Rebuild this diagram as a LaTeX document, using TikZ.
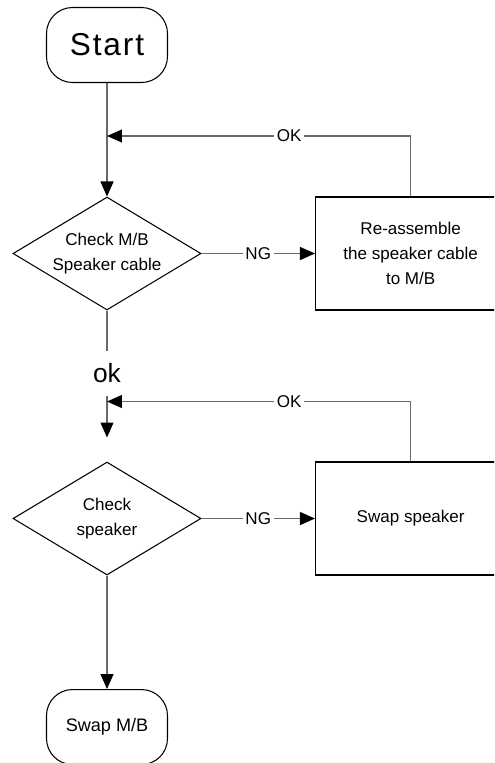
\documentclass[tikz,border=0pt]{standalone}
\usepackage{fontspec}
\setmainfont{Liberation Sans}
\newfontfamily\startfont[LetterSpace=6]{Liberation Sans}
\usetikzlibrary{shapes.geometric, arrows.meta, positioning}
\definecolor{lineg}{RGB}{105, 105, 105}

\begin{document}
\begin{tikzpicture}[
    x=0.02cm, y=-0.02cm,
    node distance=2.27cm,
    font=\fontsize{9.7}{14.2}\selectfont,
    term/.style={rectangle, draw, line width=0.6pt, rounded corners=0.52cm, minimum width=2.42cm, minimum height=1.5cm, align=center},
    decision/.style={diamond, draw, line width=0.6pt, aspect=1.66, inner sep=0pt, minimum width=3.76cm, minimum height=2.26cm, align=center},
    box/.style={rectangle, draw, line width=0.8pt, minimum width=3.8cm, minimum height=2.26cm, align=center},
    lbl/.style={fill=white, inner sep=0.05cm},
    flow/.style={draw=lineg, line width=0.7pt},
    arr/.style={flow, -{Triangle[length=0.3cm, width=0.26cm, color=black]}}
]
    \useasboundingbox (0,0) rectangle (494,763);
    \clip (0,0) rectangle (494,763);

    \node [term] (start) at (107,45) {\startfont\fontsize{18}{20}\selectfont Start};
    \node [decision, below=of start] (chkcable) {Check M/B\\Speaker cable};
    \node [box, right=of chkcable] (reseat) {Re-assemble\\the speaker cable\\to M/B};
    \node [inner sep=0pt, minimum height=0.9cm, font=\fontsize{15}{17}\selectfont, below=0.8cm of chkcable] (okmark) {ok};
    \node [decision, below=3.02cm of chkcable] (chkspk) {Check\\speaker};
    \node [box, right=of chkspk] (swapspk) {Swap speaker};
    \node [term, below=of chkspk, font=\fontsize{10.3}{12}\selectfont] (swapmb) {Swap M/B};

    \coordinate [below=1.06cm of start] (ret1);
    \coordinate [above=1.2cm of chkspk] (ret2);
    \coordinate [above=0.48cm of chkspk] (spkin);

    % main line
    \draw [arr] (start) -- (chkcable);
    \draw [flow] (chkcable) -- (okmark);
    \draw [arr] (okmark) -- (spkin);
    \draw [arr] (chkspk) -- (swapmb);

    % NG branches
    \draw [arr] (chkcable) -- node [lbl] {NG} (reseat);
    \draw [arr] (chkspk) -- node [lbl] {NG} (swapspk);

    % OK loops back
    \draw [arr] (reseat.north) |- node [lbl, pos=0.7] {OK} (ret1);
    \draw [arr] (swapspk.north) |- node [lbl, pos=0.7] {OK} (ret2);
\end{tikzpicture}
\end{document}
